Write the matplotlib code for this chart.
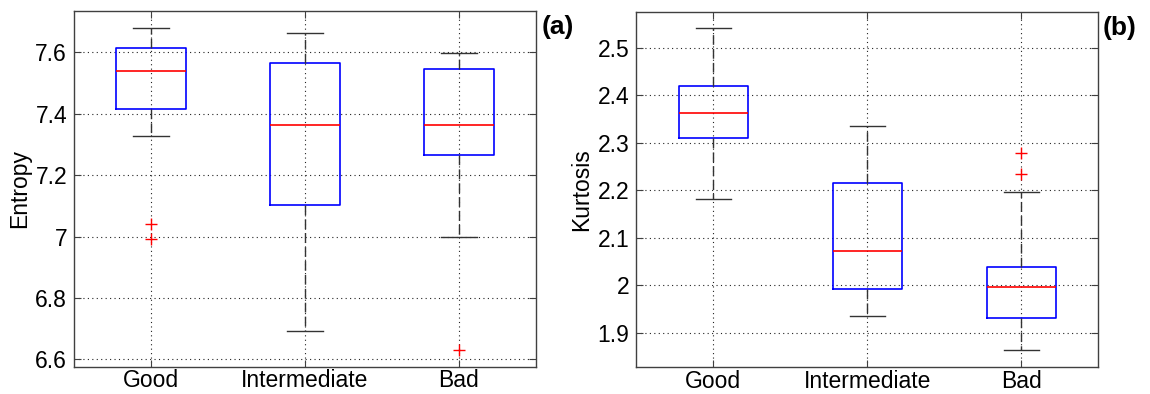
import numpy as np
import matplotlib.pyplot as plt

plt.rcParams['font.family'] = ['Liberation Sans', 'DejaVu Sans']

groups = ['Good', 'Intermediate', 'Bad']

# entropy box statistics per group
ent_lo = [7.327, 6.692, 7.000]
ent_q1 = [7.416, 7.104, 7.265]
ent_med = [7.541, 7.364, 7.364]
ent_q3 = [7.616, 7.566, 7.545]
ent_hi = [7.679, 7.663, 7.599]
ent_out = [[7.041, 6.992], [], [6.629]]

# kurtosis box statistics per group
kur_lo = [2.181, 1.936, 1.864]
kur_q1 = [2.310, 1.993, 1.932]
kur_med = [2.362, 2.073, 1.996]
kur_q3 = [2.420, 2.215, 2.039]
kur_hi = [2.541, 2.336, 2.197]
kur_out = [[], [], [2.279, 2.234]]


def make_stats(lo, q1, med, q3, hi, out):
    return [dict(whislo=a, q1=b, med=c, q3=d, whishi=e, fliers=f, label=g)
            for a, b, c, d, e, f, g in zip(lo, q1, med, q3, hi, out, groups)]


def draw(ax, stats, ylim, yticks, ylabel, tag):
    ax.bxp(stats, positions=[1, 2, 3], widths=0.45, showfliers=True,
           boxprops=dict(color='#0000ff', linewidth=1.2),
           medianprops=dict(color='#ff0000', linewidth=1.2),
           whiskerprops=dict(color='#333333', linewidth=1.0, linestyle=(0, (7, 3))),
           capprops=dict(color='#333333', linewidth=1.0),
           flierprops=dict(marker='+', markeredgecolor='#ff0000', markersize=8,
                           linestyle='none', markeredgewidth=1.0),
           capwidths=0.23)
    ax.set_xlim(0.5, 3.5)
    ax.set_ylim(*ylim)
    ax.set_yticks(yticks)
    ax.set_yticklabels([('%g' % t) for t in yticks])
    ax.set_xticks([1, 2, 3])
    ax.set_xticklabels(groups)
    ax.grid(True, linestyle=(0, (1, 3)), color='#222222', linewidth=0.8)
    ax.set_axisbelow(True)
    ax.tick_params(direction='in', length=5, width=0.8, top=True, right=True,
                   labelsize=16.5, colors='#404040', labelcolor='black', pad=5)
    ax.tick_params(axis='x', pad=2)
    for s in ax.spines.values():
        s.set_color('#404040')
        s.set_linewidth(1.0)
    ax.set_ylabel(ylabel, fontsize=16.5, labelpad=3)
    ax.text(1.047, 0.955, tag, transform=ax.transAxes, fontsize=19,
            fontweight='bold', ha='center', va='center')


fig = plt.figure(figsize=(11.5, 3.94), dpi=100)
ax1 = fig.add_axes([0.0643, 0.0693, 0.4017, 0.9027])
ax2 = fig.add_axes([0.5533, 0.0685, 0.4017, 0.9010])

draw(ax1, make_stats(ent_lo, ent_q1, ent_med, ent_q3, ent_hi, ent_out),
     (6.576, 7.735), [6.6, 6.8, 7.0, 7.2, 7.4, 7.6], 'Entropy', '(a)')
draw(ax2, make_stats(kur_lo, kur_q1, kur_med, kur_q3, kur_hi, kur_out),
     (1.8285, 2.575), [1.9, 2.0, 2.1, 2.2, 2.3, 2.4, 2.5], 'Kurtosis', '(b)')

fig.savefig('out.png', dpi=100)
